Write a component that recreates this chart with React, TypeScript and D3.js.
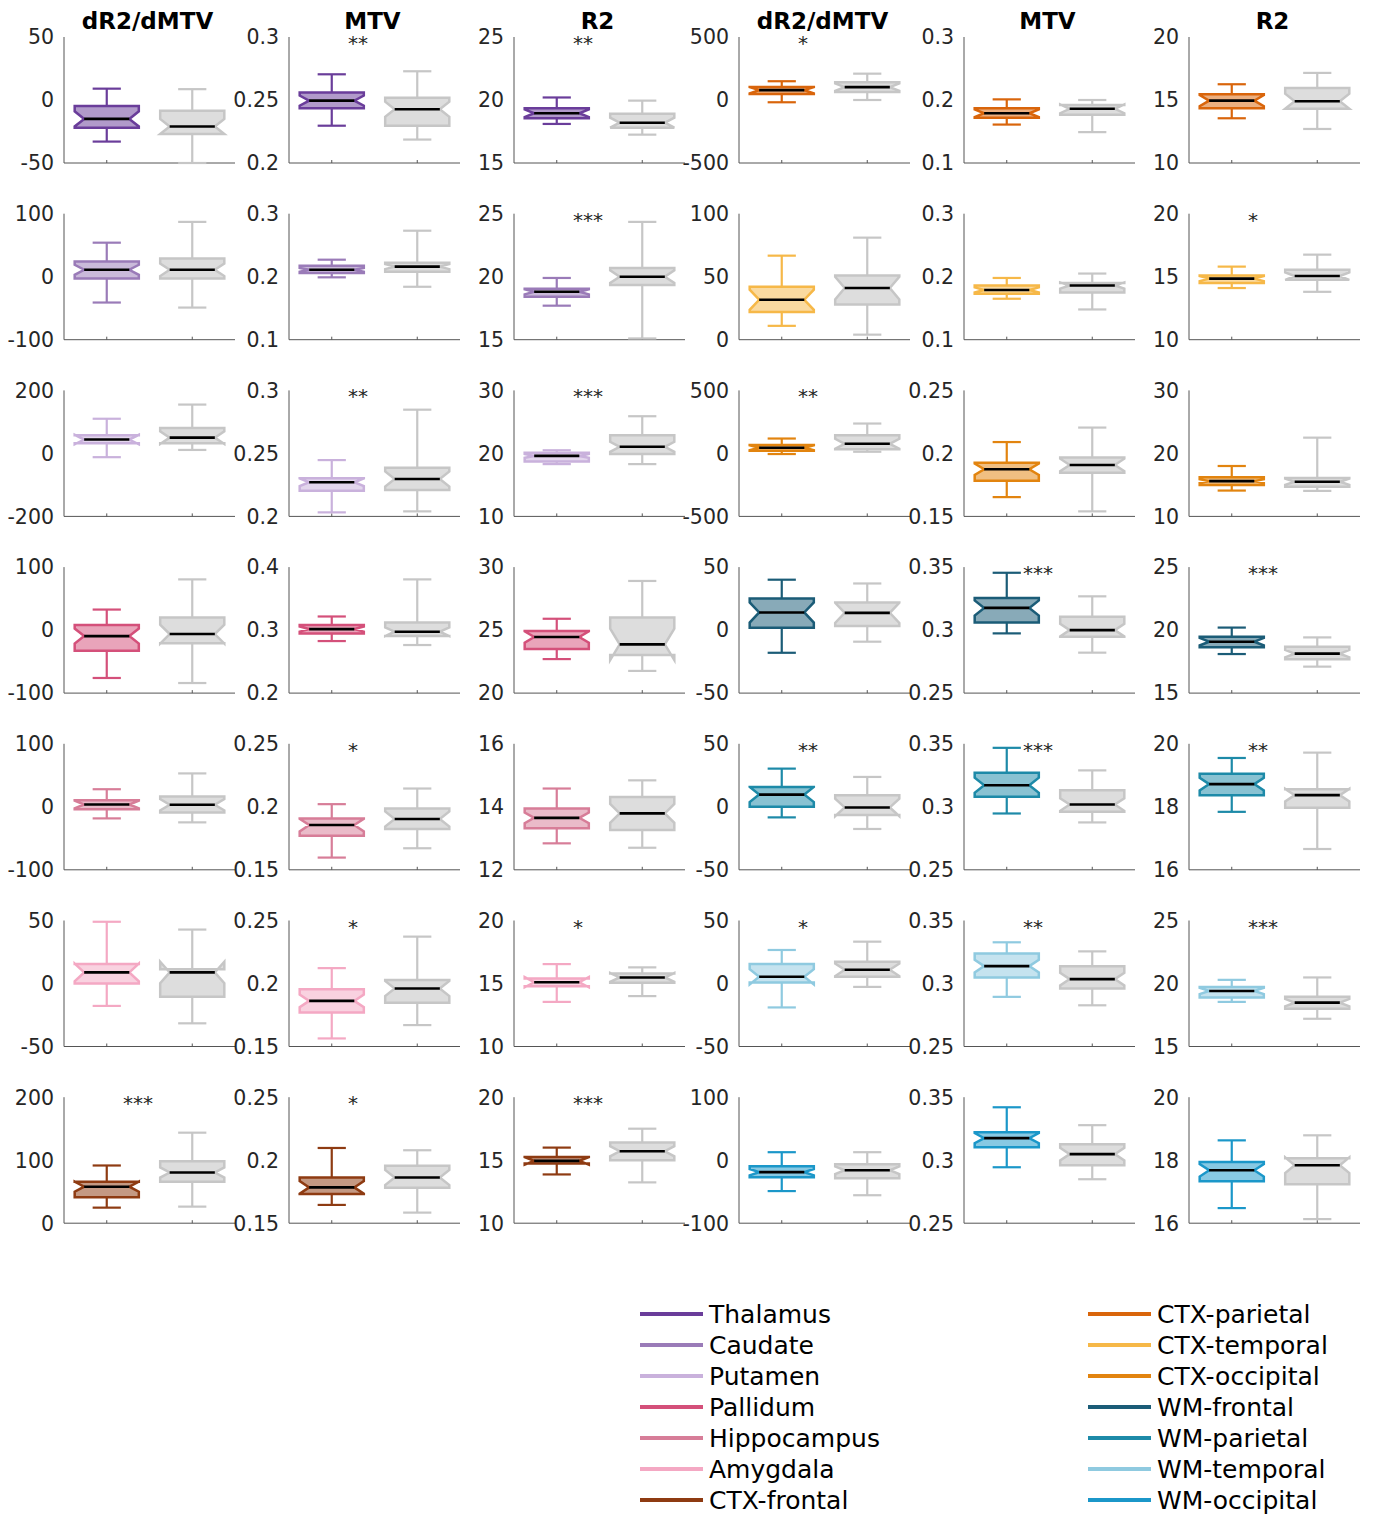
import React from 'react';
import * as d3 from 'd3';

const W = 1375;
const H = 1515;

const metrics = ['dR2/dMTV', 'MTV', 'R2', 'dR2/dMTV', 'MTV', 'R2'];
const regionsLeft = ['Thalamus', 'Caudate', 'Putamen', 'Pallidum', 'Hippocampus', 'Amygdala', 'CTX-frontal'];
const regionsRight = ['CTX-parietal', 'CTX-temporal', 'CTX-occipital', 'WM-frontal', 'WM-parietal', 'WM-temporal', 'WM-occipital'];
const colorsLeft = ['#6a3d9a', '#9a7bb8', '#c9b1dc', '#d4507a', '#d77d98', '#f4a8c3', '#8e3b12'];
const colorsRight = ['#d9650b', '#f6b848', '#e2840f', '#1b5c77', '#1d8aa8', '#8fcae0', '#1b97c9'];

// y-axis limits per row, per column
const yLimits = [
  [[-50, 50], [0.2, 0.3], [15, 25], [-500, 500], [0.1, 0.3], [10, 20]],
  [[-100, 100], [0.1, 0.3], [15, 25], [0, 100], [0.1, 0.3], [10, 20]],
  [[-200, 200], [0.2, 0.3], [10, 30], [-500, 500], [0.15, 0.25], [10, 30]],
  [[-100, 100], [0.2, 0.4], [20, 30], [-50, 50], [0.25, 0.35], [15, 25]],
  [[-100, 100], [0.15, 0.25], [12, 16], [-50, 50], [0.25, 0.35], [16, 20]],
  [[-50, 50], [0.15, 0.25], [10, 20], [-50, 50], [0.25, 0.35], [15, 25]],
  [[0, 200], [0.15, 0.25], [10, 20], [-100, 100], [0.25, 0.35], [16, 20]],
];

// [whiskerLow, q1, median, q3, whiskerHigh, notchHalf] — colored region group
const regionStats = [
  [[-33, -22, -15, -4.7, 9, 6], [0.2296, 0.2435, 0.2495, 0.256, 0.2704, 0.004], [18.1, 18.55, 18.95, 19.35, 20.2, 0.3], [-18, 47, 78, 104, 149, 25], [0.161, 0.172, 0.179, 0.187, 0.201, 0.006], [13.55, 14.35, 14.95, 15.45, 16.25, 0.45]],
  [[-41, -3, 11, 24, 54, 8], [0.199, 0.206, 0.211, 0.2175, 0.227, 0.003], [17.7, 18.4, 18.8, 19.05, 19.9, 0.2], [11, 22, 31.7, 42, 66.7, 8], [0.165, 0.173, 0.179, 0.186, 0.198, 0.004], [14.1, 14.5, 14.85, 15.1, 15.8, 0.2]],
  [[-12, 32, 44, 58, 110, 15], [0.2032, 0.2203, 0.2271, 0.2303, 0.2447, 0.003], [18.3, 18.7, 19.6, 20.1, 20.5, 0.3], [-5, 21, 45, 66, 118, 20], [0.1653, 0.1782, 0.1874, 0.1926, 0.209, 0.0045], [14.1, 15.0, 15.6, 16.2, 18.0, 0.3]],
  [[-76, -32.6, -9.5, 7.9, 32.6, 12], [0.2826, 0.2947, 0.3016, 0.3079, 0.3216, 0.004], [22.7, 23.5, 24.45, 24.92, 25.9, 0.45], [-18, 1.8, 14, 25, 40, 8], [0.2974, 0.306, 0.3176, 0.3255, 0.3455, 0.006], [18.1, 18.63, 19.08, 19.47, 20.2, 0.3]],
  [[-18.4, -3.7, 3.7, 10.5, 27.9, 6], [0.1597, 0.1771, 0.1855, 0.1908, 0.2021, 0.005], [12.84, 13.32, 13.65, 13.95, 14.58, 0.17], [-8.4, 0, 9.7, 15.8, 30.3, 6], [0.2947, 0.3079, 0.3171, 0.3271, 0.3468, 0.006], [17.84, 18.37, 18.72, 19.05, 19.55, 0.2]],
  [[-17.8, 0, 8.8, 15.4, 49, 7], [0.1564, 0.1769, 0.1862, 0.1955, 0.2122, 0.005], [13.54, 14.79, 15.1, 15.4, 16.54, 0.4], [-19, 0.8, 5.3, 15.4, 26.6, 6], [0.2894, 0.3048, 0.3138, 0.3239, 0.3327, 0.005], [18.54, 18.88, 19.41, 19.73, 20.29, 0.25]],
  [[24.7, 41, 57.9, 65.8, 91.6, 8], [0.1645, 0.1732, 0.1784, 0.1863, 0.2097, 0.005], [13.87, 14.74, 14.95, 15.26, 16.0, 0.3], [-49, -27, -19, -9.5, 12.7, 5], [0.2944, 0.3103, 0.3175, 0.3222, 0.342, 0.004], [16.48, 17.33, 17.68, 17.94, 18.63, 0.2]],
];

// same layout — grey comparison group
const controlStats = [
  [[-50, -27, -21, -8.6, 8.6, 6], [0.2186, 0.2296, 0.2427, 0.2518, 0.2728, 0.006], [17.25, 17.8, 18.2, 18.9, 19.95, 0.4], [0, 63, 102, 141, 209, 30], [0.149, 0.1765, 0.186, 0.192, 0.2, 0.007], [12.7, 14.3, 14.9, 15.95, 17.15, 0.6]],
  [[-49, -3, 11, 29, 87, 10], [0.184, 0.208, 0.216, 0.222, 0.273, 0.004], [15.1, 19.35, 20.0, 20.7, 24.35, 0.5], [4, 28, 41, 51, 81, 9], [0.148, 0.175, 0.186, 0.19, 0.205, 0.005], [13.8, 14.75, 15.05, 15.55, 16.75, 0.3]],
  [[11, 32, 50, 81, 155, 20], [0.204, 0.221, 0.2297, 0.2387, 0.2847, 0.006], [18.3, 19.9, 21.05, 22.9, 25.9, 0.8], [13, 32, 76, 145, 237, 40], [0.154, 0.1847, 0.1908, 0.1968, 0.2205, 0.005], [14.05, 14.7, 15.5, 16.1, 22.5, 0.5]],
  [[-84, -21, -6.3, 20, 80.5, 15], [0.2763, 0.2905, 0.2974, 0.3121, 0.3805, 0.007], [21.76, 23.03, 23.87, 26.0, 28.9, 1.25], [-9.2, 3.2, 13.7, 22, 37, 8], [0.2821, 0.2947, 0.3, 0.3105, 0.3268, 0.005], [17.1, 17.68, 18.13, 18.68, 19.42, 0.3]],
  [[-24.7, -8.9, 3.2, 16.3, 53, 9], [0.1671, 0.1824, 0.1903, 0.1987, 0.2145, 0.006], [12.7, 13.26, 13.79, 14.31, 14.84, 0.3], [-17.6, -6.6, -0.5, 9.2, 23.7, 7], [0.2876, 0.2961, 0.3018, 0.3132, 0.3289, 0.005], [16.66, 17.97, 18.37, 18.56, 19.72, 0.2]],
  [[-31.6, -10.6, 8.8, 11.4, 42.8, 8.5], [0.167, 0.1848, 0.196, 0.2027, 0.2372, 0.006], [14.0, 15.05, 15.48, 15.8, 16.28, 0.35], [-2.7, 5.3, 10.9, 17.3, 33.2, 5], [0.2827, 0.296, 0.3035, 0.3136, 0.3255, 0.005], [17.2, 18.0, 18.48, 18.94, 20.48, 0.3]],
  [[26.3, 65.8, 80.5, 98.4, 143.7, 8], [0.1584, 0.1782, 0.1863, 0.1955, 0.2079, 0.006], [13.24, 15.0, 15.71, 16.4, 17.5, 0.4], [-55.6, -28.6, -15.9, -6.3, 12.7, 6], [0.2849, 0.296, 0.3048, 0.3127, 0.3278, 0.005], [16.13, 17.24, 17.84, 18.06, 18.79, 0.25]],
];

const stars = [
  ['', '**', '**', '*', '', ''],
  ['', '', '***', '', '', '*'],
  ['', '**', '***', '**', '', ''],
  ['', '', '', '', '***', '***'],
  ['', '*', '', '**', '***', '**'],
  ['', '*', '*', '*', '**', '***'],
  ['***', '*', '***', '', '', ''],
];

const FONT = 'DejaVu Sans, sans-serif';
const colX0 = 64;
const colStep = 225;
const panelW = 171;
const rowY0 = 37;
const rowStep = 176.7;
const panelH = 126;
const axisColor = '#555555';
const textColor = '#262626';
const greyStroke = '#c6c6c6';
const greyFill = '#dddddd';

const fmt = (v: number) => String(+v.toFixed(4));

function BoxGlyph({ x, y, pos, s, stroke, fill, fillOpacity }: any) {
  const [lo, q1, med, q3, hi, nh] = s;
  const half = 0.375;
  const inset = 0.111;
  const cap = 0.165;
  const L = x(pos - half), R = x(pos + half);
  const Li = x(pos - half + inset), Ri = x(pos + half - inset);
  const cx = x(pos);
  const nlo = med - nh, nhi = med + nh;
  const pts: [number, number][] = [
    [L, y(q1)], [L, y(nlo)], [Li, y(med)], [L, y(nhi)], [L, y(q3)],
    [R, y(q3)], [R, y(nhi)], [Ri, y(med)], [R, y(nlo)], [R, y(q1)],
  ];
  const line = d3.line();
  return (
    <g>
      <line x1={cx} x2={cx} y1={y(q3)} y2={y(hi)} stroke={stroke} strokeWidth={2.2} />
      <line x1={cx} x2={cx} y1={y(q1)} y2={y(lo)} stroke={stroke} strokeWidth={2.2} />
      <line x1={x(pos - cap)} x2={x(pos + cap)} y1={y(hi)} y2={y(hi)} stroke={stroke} strokeWidth={2.2} />
      <line x1={x(pos - cap)} x2={x(pos + cap)} y1={y(lo)} y2={y(lo)} stroke={stroke} strokeWidth={2.2} />
      <path d={line(pts) + 'Z'} fill={fill} fillOpacity={fillOpacity} stroke={stroke} strokeWidth={2.5} strokeLinejoin="miter" />
      <line x1={Li} x2={Ri} y1={y(med)} y2={y(med)} stroke="#000" strokeWidth={2.6} />
    </g>
  );
}

function Panel({ row, col }: { row: number; col: number }) {
  const x0 = colX0 + col * colStep;
  const y0 = rowY0 + row * rowStep;
  const dom = yLimits[row][col];
  const x = d3.scaleLinear().domain([0.5, 2.5]).range([x0, x0 + panelW]);
  const y = d3.scaleLinear().domain(dom).range([y0 + panelH, y0]);
  const ticks = [dom[0], (dom[0] + dom[1]) / 2, dom[1]];
  const color = col < 3 ? colorsLeft[row] : colorsRight[row];
  const st = stars[row][col];
  return (
    <g>
      <line x1={x0} x2={x0} y1={y0} y2={y0 + panelH} stroke={axisColor} strokeWidth={1} />
      <line x1={x0} x2={x0 + panelW} y1={y0 + panelH} y2={y0 + panelH} stroke={axisColor} strokeWidth={1} />
      {[1, 2].map((p) => (
        <line key={p} x1={x(p)} x2={x(p)} y1={y0 + panelH} y2={y0 + panelH - 3} stroke={axisColor} strokeWidth={1} />
      ))}
      {ticks.map((t, i) => (
        <text key={i} x={x0 - 10} y={y(t)} dy="0.36em" textAnchor="end" fontFamily={FONT} fontSize={20.5} fill={textColor}>
          {fmt(t)}
        </text>
      ))}
      <BoxGlyph x={x} y={y} pos={1} s={regionStats[row][col]} stroke={color} fill={color} fillOpacity={0.52} />
      <BoxGlyph x={x} y={y} pos={2} s={controlStats[row][col]} stroke={greyStroke} fill={greyFill} fillOpacity={1} />
      {st && (
        <text x={x(1.19)} y={y0 + 13} fontFamily={FONT} fontSize={20} fill={textColor}>
          {st}
        </text>
      )}
      {row === 0 && (
        <text x={x0 + panelW / 2 - 2} y={29} textAnchor="middle" fontFamily={FONT} fontWeight="bold" fontSize={23} fill="#000">
          {metrics[col]}
        </text>
      )}
    </g>
  );
}

function Legend() {
  const rowsY = d3.range(7).map((i) => 1314 + i * 31);
  return (
    <g>
      {regionsLeft.map((r, i) => (
        <g key={r}>
          <line x1={640} x2={703} y1={rowsY[i]} y2={rowsY[i]} stroke={colorsLeft[i]} strokeWidth={4} />
          <text x={709} y={rowsY[i]} dy="0.36em" fontFamily={FONT} fontSize={25} fill="#000">{r}</text>
        </g>
      ))}
      {regionsRight.map((r, i) => (
        <g key={r}>
          <line x1={1088} x2={1151} y1={rowsY[i]} y2={rowsY[i]} stroke={colorsRight[i]} strokeWidth={4} />
          <text x={1157} y={rowsY[i]} dy="0.36em" fontFamily={FONT} fontSize={25} fill="#000">{r}</text>
        </g>
      ))}
    </g>
  );
}

export default function App() {
  const cells: React.ReactNode[] = [];
  for (let r = 0; r < 7; r++) {
    for (let c = 0; c < 6; c++) {
      cells.push(<Panel key={`${r}-${c}`} row={r} col={c} />);
    }
  }
  return (
    <svg width={W} height={H} viewBox={`0 0 ${W} ${H}`} style={{ position: 'absolute', left: 0, top: 0, background: '#fff' }}>
      <rect x={0} y={0} width={W} height={H} fill="#fff" />
      {cells}
      <Legend />
    </svg>
  );
}
